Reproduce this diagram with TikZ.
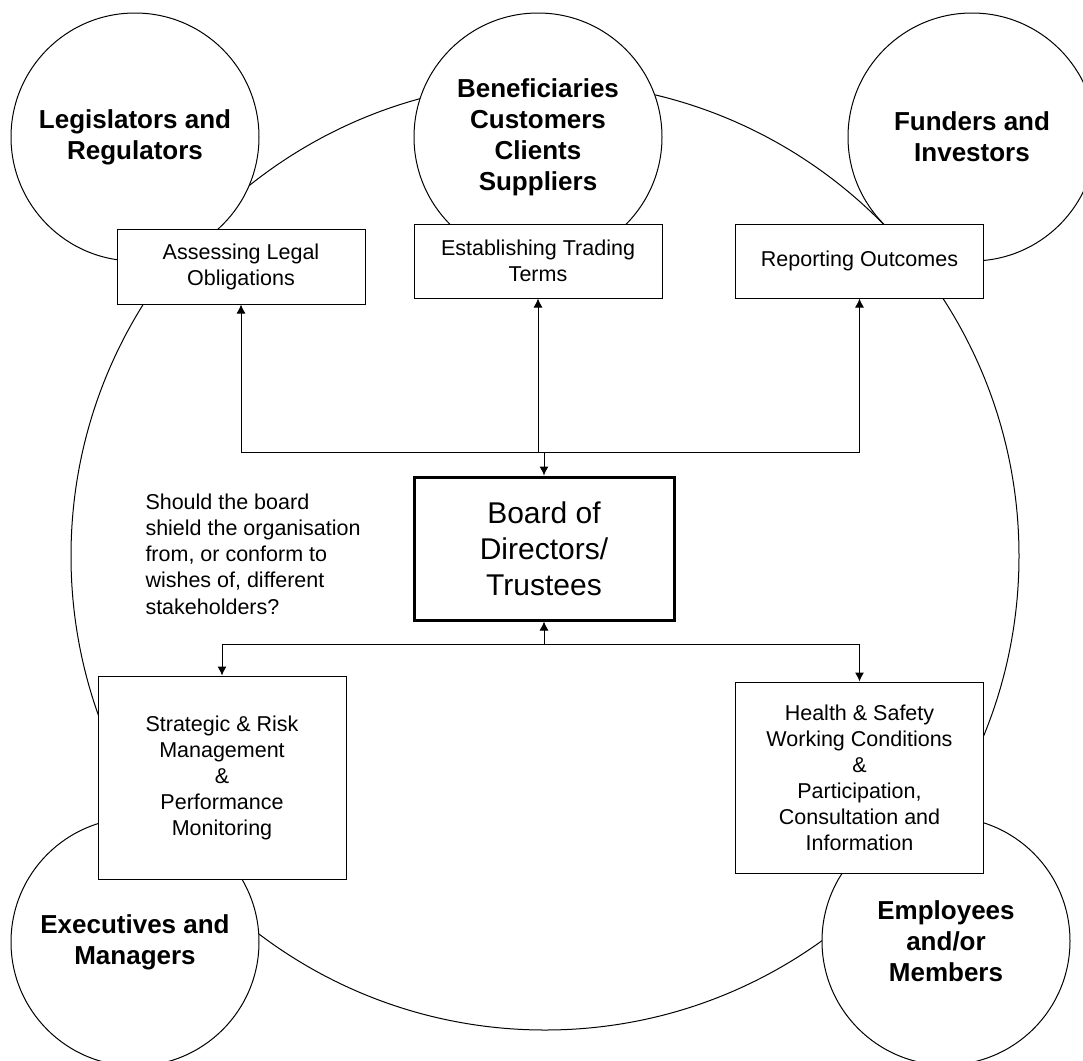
\documentclass[tikz,border=0pt]{standalone}
\usepackage{fontspec}
\setmainfont{Liberation Sans}
\usetikzlibrary{arrows.meta,positioning,calc}
\tikzset{
	stake/.style={draw, circle, fill=white, minimum size=124pt, inner sep=0pt,
		align=center, font=\fontsize{13}{15.5}\selectfont\bfseries},
	taskbox/.style={draw, fill=white, inner sep=0pt, align=center,
		minimum width=124pt, font=\fontsize{10.75}{13}\selectfont},
	arrow/.style={-{Latex[length=4.5pt,width=4.5pt]}, line width=0.5pt}
}
\begin{document}
\begin{tikzpicture}[x=0.5pt, y=-0.5pt, line width=0.5pt]
	\useasboundingbox (0,0) rectangle (1083,1061);
	
	%% -- Organisation (large circle)
	\node[draw, circle, minimum size=474pt, inner sep=0pt] (org) at (545,556) {};
	
	%% -- Stakeholder circles
	\node[stake] (legis) at (135,137) {Legislators and\\Regulators};
	\node[stake] (benef) at (538,137) {Beneficiaries\\Customers\\Clients\\Suppliers};
	\node[stake] (fund)  at (972,137) {Funders and\\Investors};
	\node[stake] (exec)  at (135,942) {Executives and\\Managers};
	\node[stake] (empl)  at (946,941) {Employees\\and/or\\Members};
	
	%% -- Board functions
	\node[taskbox, minimum height=37.5pt] (legal)  at (241,266.5) {Assessing Legal\\Obligations};
	\node[taskbox, minimum height=37pt]   (trade)  at (538,261) {Establishing Trading\\Terms};
	\node[taskbox, minimum height=37pt]   (report) at (859.5,261) {Reporting Outcomes};
	\node[taskbox, minimum height=101.5pt] (strat) at (222,777.5)
	{Strategic \& Risk\\Management\\\&\\Performance\\Monitoring};
	\node[taskbox, minimum height=95.5pt] (health) at (859.5,777.5)
	{Health \& Safety\\Working Conditions\\\&\\Participation,\\Consultation and\\Information};
	
	%% -- Board
	\node[draw, fill=white, line width=1.5pt, minimum width=130pt, minimum height=71.5pt,
	inner sep=0pt, align=center, font=\fontsize{15}{18}\selectfont] (board)
	at (544,548.5) {Board of\\Directors/\\Trustees};
	
	%% -- Question
	\node[anchor=west, align=left, inner sep=0pt, font=\fontsize{10.75}{13.1}\selectfont]
	(question) at (145,554)
	{Should the board\\shield the organisation\\from, or conform to\\wishes of, different\\stakeholders?};
	
	%% -- Connectors above the board
	\coordinate (tj) at ($(board.north)+(0,-23)$);
	\draw[arrow] (tj) -- (board.north);
	\draw[arrow] (tj) -| (legal.south);
	\draw[arrow] (tj) -| (report.south);
	\draw[arrow] (tj -| trade.south) -- (trade.south);
	
	%% -- Connectors below the board
	\coordinate (bj) at ($(board.south)+(0,23)$);
	\draw[arrow] (bj) -- (board.south);
	\draw[arrow] (bj) -| (strat.north);
	\draw[arrow] (bj) -| (health.north);
	
\end{tikzpicture}
\end{document}
